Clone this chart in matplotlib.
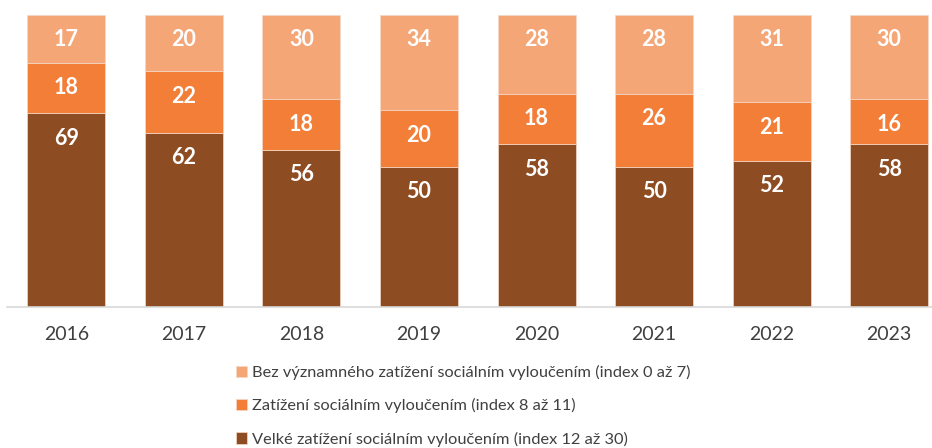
import matplotlib
matplotlib.use("Agg")
import matplotlib.pyplot as plt
import numpy as np

years = ["2016", "2017", "2018", "2019", "2020", "2021", "2022", "2023"]
velke = [69, 62, 56, 50, 58, 50, 52, 58]
zatizeni = [18, 22, 18, 20, 18, 26, 21, 16]
bez = [17, 20, 30, 34, 28, 28, 31, 30]

labels = [
    "Bez významného zatížení sociálním vyloučením (index 0 až 7)",
    "Zatížení sociálním vyloučením (index 8 až 11)",
    "Velké zatížení sociálním vyloučením (index 12 až 30)",
]
colors = ["#F5A677", "#F27E38", "#8E4C22"]

plt.rcParams["font.family"] = ["Lato", "DejaVu Sans"]

W, H = 932, 448
fig = plt.figure(figsize=(W / 100, H / 100), dpi=100)
# plot area in pixel terms: x 7.5..948 (cropped on the right), bottom at y=307
ax = fig.add_axes([7.5 / W, (H - 307) / H, (948 - 7.5) / W, 307 / H])

x = np.arange(len(years))
bottom = np.zeros(len(years))
series = [(velke, colors[2]), (zatizeni, colors[1]), (bez, colors[0])]
bars = []
for vals, col in series:
    vals = np.array(vals)
    b = ax.bar(x, vals, bottom=bottom, width=0.663, color=col,
               edgecolor="#F3D9C8", linewidth=0.5)
    bars.append(b)
    # labels sit near the top of each segment ("inside end")
    for xi, v, btm in zip(x, vals, bottom):
        ax.annotate(str(v), (xi, btm + v), xytext=(0, -25),
                    textcoords="offset pixels", ha="center", va="center",
                    color="white", fontsize=15.5, fontweight="bold")
    bottom = bottom + vals

ax.set_xlim(-0.5, len(years) - 0.5)
ax.set_ylim(0, 307 / 2.808)
ax.set_xticks(x)
ax.set_xticklabels(years, fontsize=14, color="#404040")
ax.tick_params(axis="x", length=0, pad=14)
ax.set_yticks([])
for s in ["top", "right", "left"]:
    ax.spines[s].set_visible(False)
ax.spines["bottom"].set_color("#D9D9D9")
ax.spines["bottom"].set_linewidth(1.2)

handles = [bars[2], bars[1], bars[0]]
fig.legend(handles, labels, loc="upper left",
           bbox_to_anchor=(236 / W, (H - 365) / H),
           frameon=False, fontsize=11.8, labelcolor="#404040",
           handlelength=0.7, handleheight=0.7, handletextpad=0.3,
           labelspacing=1.12, borderpad=0, borderaxespad=0)

fig.savefig("out.png", dpi=100)
